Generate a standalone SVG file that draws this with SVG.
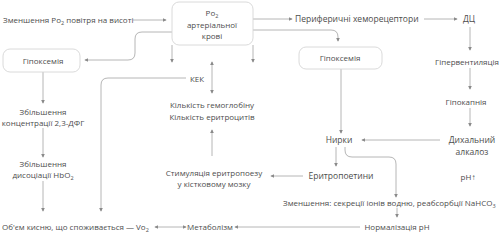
<svg xmlns="http://www.w3.org/2000/svg" width="502" height="235" viewBox="0 0 502 235">
<defs>
<marker id="ah" viewBox="0 0 6 6" refX="5" refY="3" markerWidth="4" markerHeight="4" orient="auto-start-reverse" markerUnits="userSpaceOnUse">
<path d="M0,0 L6,3 L0,6 z" fill="#8a8a8a"/>
</marker>
<style>
text{font-family:"Open Sans","Liberation Sans",sans-serif;font-size:8px;fill:#4d4d4d;text-anchor:middle}
.l{text-anchor:start}
.m{font-size:8.5px}
.box{fill:#fff;stroke:#d6d6d6;stroke-width:0.9}
.c path{fill:none;stroke:#a3a3a3;stroke-width:0.8;marker-end:url(#ah)}
.c path.b{marker-start:url(#ah)}
.s{font-size:5.5px}
</style>
</defs>
<rect width="502" height="235" fill="#fff"/>
<g class="c" id="connectors">
<path d="M133,20 H166"/>
<path d="M253,19 H292"/>
<path d="M424,19 H457"/>
<path d="M252,30 H331 Q338,30 338,37 V41"/>
<path d="M172,32 H142 Q135,32 135,39 V53 Q135,60 128,60 H85"/>
<path d="M172,45 V62"/>
<path d="M253,45 V62"/>
<path class="b" d="M212,62 V93"/>
<path d="M186,78 H108 Q101,78 101,85 V211"/>
<path d="M212,156 V130"/>
<path d="M43,72 V103"/>
<path d="M43,128 V157"/>
<path d="M43,181 V211"/>
<path class="b" d="M155,227 H186"/>
<path d="M360,227 H235"/>
<path d="M470,27 V50"/>
<path d="M470,68 V89"/>
<path d="M470,108 V126"/>
<path d="M440,140 H362"/>
<path d="M341,68 V133"/>
<path d="M336,147 V166"/>
<path d="M303,176 H271"/>
<path d="M345,147 V150 Q345,157 352,157 H389 Q396,157 396,164 V197"/>
<path d="M397,208 V217"/>
</g>
<g id="n-altitude"><text class="l" x="3" y="23">Зменшення Po<tspan class="s" dy="2">2</tspan><tspan dy="-2"> повітря на висоті</tspan></text></g>
<g id="n-po2"><rect class="box" x="172" y="2" width="81" height="43" rx="7"/>
<text x="212" y="16">Po<tspan class="s" dy="2">2</tspan></text>
<text x="212" y="28">артеріальної</text>
<text x="212" y="39">крові</text></g>
<g id="n-periph"><text class="l m" x="295" y="22">Периферичні хеморецептори</text></g>
<g id="n-dc"><text class="m" x="469" y="22">ДЦ</text></g>
<g id="n-hypox-l"><rect class="box" x="3" y="49" width="77" height="23" rx="7"/><text x="43" y="64">Гіпоксемія</text></g>
<g id="n-hypox-r"><rect class="box" x="299" y="47" width="83" height="22" rx="7"/><text x="340" y="61">Гіпоксемія</text></g>
<g id="n-hypervent"><text x="467" y="65">Гіпервентиляція</text></g>
<g id="n-hypocap"><text x="466" y="105">Гіпокапнія</text></g>
<g id="n-alk"><text class="m" x="472" y="143">Дихальний</text><text class="m" x="472" y="155">алкалоз</text></g>
<g id="n-ph"><text x="468" y="180">pH↑</text></g>
<g id="n-kek"><text x="197" y="82">КЕК</text></g>
<g id="n-hb"><text x="212" y="108">Кількість гемоглобіну</text><text x="212" y="120">Кількість еритроцитів</text></g>
<g id="n-dfg"><text x="43" y="115">Збільшення</text><text x="43" y="126">концентрації 2,3-ДФГ</text></g>
<g id="n-hbo2"><text x="43" y="167">Збільшення</text><text x="43" y="178">дисоціації HbO<tspan class="s" dy="2">2</tspan></text></g>
<g id="n-kidney"><text class="m" x="339" y="143">Нирки</text></g>
<g id="n-epo"><text class="m" x="341" y="179">Еритропоетини</text></g>
<g id="n-stim"><text x="214" y="176">Стимуляція еритропоезу</text><text x="214" y="187">у кістковому мозку</text></g>
<g id="n-decr"><text class="l" x="283" y="206">Зменшення: секреції іонів водню, реабсорбції NaHCO<tspan class="s" dy="2">3</tspan></text></g>
<g id="n-norm"><text x="397" y="230">Нормалізація pH</text></g>
<g id="n-metab"><text x="210" y="230">Метаболізм</text></g>
<g id="n-vo2"><text class="l" x="2" y="230">Об'єм кисню, що споживається — Vo<tspan class="s" dy="2">2</tspan></text></g>
</svg>
